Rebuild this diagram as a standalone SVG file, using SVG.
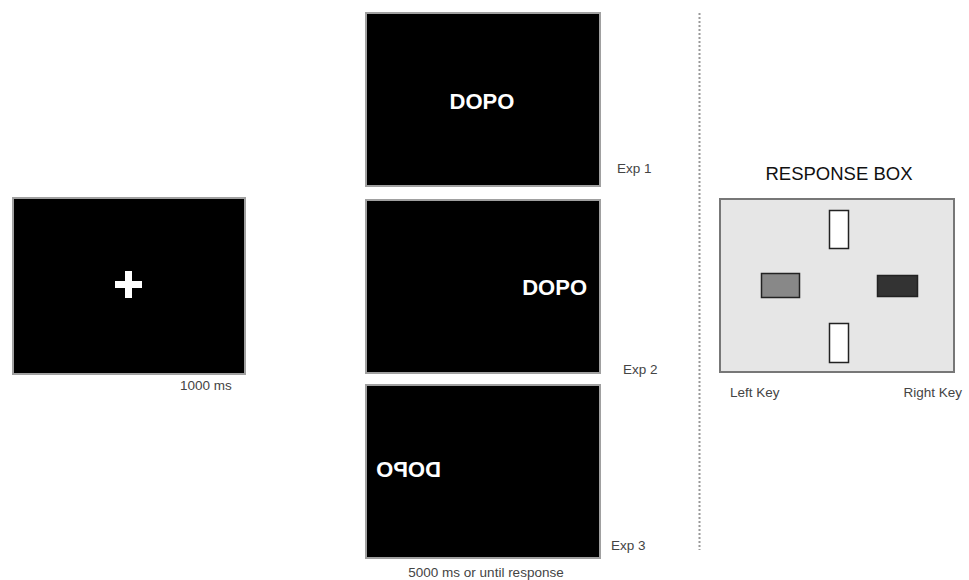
<svg xmlns="http://www.w3.org/2000/svg" width="969" height="580" viewBox="0 0 969 580">
<style>
.screen{fill:#000;stroke:#a0a0a0;stroke-width:2}
.word{font-family:"Liberation Sans",Arial,sans-serif;font-weight:bold;font-size:22px;fill:#fff}
.lbl{font-family:"Liberation Sans",Arial,sans-serif;font-size:13.5px;fill:#444}
.key{stroke:#222;stroke-width:1.5}
</style>
<rect width="969" height="580" fill="#fff"/>
<g id="fixation">
<rect class="screen" x="13" y="198" width="232" height="176"/>
<rect x="115" y="281" width="27" height="7" fill="#fff"/>
<rect x="125" y="271" width="7" height="27" fill="#fff"/>
<text class="lbl" x="180" y="390">1000 ms</text>
</g>
<g id="exp1">
<rect class="screen" x="366" y="13" width="234" height="173"/>
<text class="word" x="482" y="109" text-anchor="middle">DOPO</text>
<text class="lbl" x="617" y="173">Exp 1</text>
</g>
<g id="exp2">
<rect class="screen" x="366" y="200" width="234" height="173"/>
<text class="word" x="587" y="295" text-anchor="end">DOPO</text>
<text class="lbl" x="623" y="374">Exp 2</text>
</g>
<g id="exp3">
<rect class="screen" x="366" y="385" width="234" height="173"/>
<text class="word" transform="translate(814,0) scale(-1,1)" x="373" y="477">DOPO</text>
<text class="lbl" x="611" y="550">Exp 3</text>
<text class="lbl" x="486" y="577" text-anchor="middle">5000 ms or until response</text>
</g>
<g id="connectors">
<line x1="699.5" y1="13" x2="699.5" y2="550" stroke="#999" stroke-width="2" stroke-dasharray="2,2"/>
</g>
<g id="response-box">
<text x="839" y="180" text-anchor="middle" font-family="'Liberation Sans',Arial,sans-serif" font-size="18.5" fill="#111">RESPONSE BOX</text>
<rect x="720" y="199" width="234" height="173" fill="#e6e6e6" stroke="#777" stroke-width="2"/>
<rect class="key" x="829.5" y="210.5" width="19" height="38" fill="#fff"/>
<rect class="key" x="829.5" y="323.5" width="19" height="39" fill="#fff"/>
<rect class="key" x="761.5" y="273.5" width="38" height="24" fill="#888"/>
<rect class="key" x="877.5" y="275.5" width="40" height="21" fill="#333"/>
<text class="lbl" x="730" y="397">Left Key</text>
<text class="lbl" x="962" y="397" text-anchor="end">Right Key</text>
</g>
</svg>
